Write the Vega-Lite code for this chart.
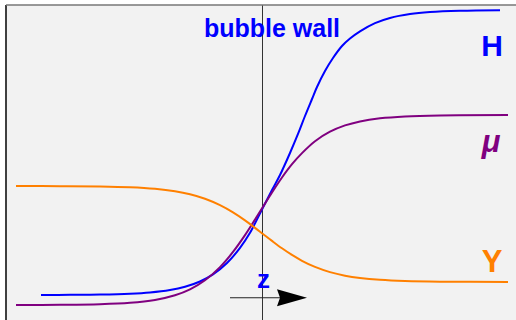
{
  "$schema": "https://vega.github.io/schema/vega-lite/v6.json",
  "width": 516,
  "height": 320,
  "autosize": {"type": "fit", "contains": "padding"},
  "padding": 0,
  "background": "white",
  "config": {"view": {"stroke": null}},
  "datasets": {
    "curves": [
      {"series": "H", "z": -8.84, "v": 3.39},
      {"series": "H", "z": -7.68, "v": 3.44},
      {"series": "H", "z": -6.48, "v": 3.54},
      {"series": "H", "z": -5.28, "v": 3.82},
      {"series": "H", "z": -4.48, "v": 4.24},
      {"series": "H", "z": -3.68, "v": 5.07},
      {"series": "H", "z": -3.08, "v": 6.18},
      {"series": "H", "z": -2.48, "v": 7.97},
      {"series": "H", "z": -1.96, "v": 10.37},
      {"series": "H", "z": -1.4, "v": 14.24},
      {"series": "H", "z": -0.88, "v": 19.36},
      {"series": "H", "z": -0.48, "v": 24.47},
      {"series": "H", "z": 0.04, "v": 33.05},
      {"series": "H", "z": 0.4, "v": 38.98},
      {"series": "H", "z": 0.72, "v": 44.07},
      {"series": "H", "z": 1.12, "v": 51.53},
      {"series": "H", "z": 1.44, "v": 57.97},
      {"series": "H", "z": 1.72, "v": 64.07},
      {"series": "H", "z": 2.0, "v": 69.83},
      {"series": "H", "z": 2.2, "v": 73.90},
      {"series": "H", "z": 2.52, "v": 79.32},
      {"series": "H", "z": 2.84, "v": 83.73},
      {"series": "H", "z": 3.2, "v": 87.80},
      {"series": "H", "z": 3.52, "v": 90.34},
      {"series": "H", "z": 3.92, "v": 92.78},
      {"series": "H", "z": 4.52, "v": 95.56},
      {"series": "H", "z": 5.12, "v": 97.31},
      {"series": "H", "z": 5.92, "v": 98.63},
      {"series": "H", "z": 6.72, "v": 99.31},
      {"series": "H", "z": 7.92, "v": 99.75},
      {"series": "H", "z": 9.52, "v": 99.94},
      {"series": "mu", "z": -9.84, "v": 0.02},
      {"series": "mu", "z": -8.08, "v": 0.07},
      {"series": "mu", "z": -6.48, "v": 0.27},
      {"series": "mu", "z": -5.28, "v": 0.75},
      {"series": "mu", "z": -4.28, "v": 1.73},
      {"series": "mu", "z": -3.48, "v": 3.31},
      {"series": "mu", "z": -2.88, "v": 5.32},
      {"series": "mu", "z": -2.28, "v": 8.39},
      {"series": "mu", "z": -1.68, "v": 12.85},
      {"series": "mu", "z": -1.16, "v": 17.98},
      {"series": "mu", "z": -0.68, "v": 23.68},
      {"series": "mu", "z": -0.28, "v": 28.95},
      {"series": "mu", "z": 0.04, "v": 33.29},
      {"series": "mu", "z": 0.4, "v": 38.14},
      {"series": "mu", "z": 0.8, "v": 43.22},
      {"series": "mu", "z": 1.2, "v": 47.73},
      {"series": "mu", "z": 1.6, "v": 51.49},
      {"series": "mu", "z": 2.12, "v": 55.53},
      {"series": "mu", "z": 2.72, "v": 58.75},
      {"series": "mu", "z": 3.32, "v": 60.88},
      {"series": "mu", "z": 3.92, "v": 62.24},
      {"series": "mu", "z": 4.72, "v": 63.29},
      {"series": "mu", "z": 5.72, "v": 63.93},
      {"series": "mu", "z": 7.12, "v": 64.27},
      {"series": "mu", "z": 9.84, "v": 64.39},
      {"series": "Y", "z": -9.84, "v": 40.33},
      {"series": "Y", "z": -8.08, "v": 40.29},
      {"series": "Y", "z": -6.48, "v": 40.17},
      {"series": "Y", "z": -5.28, "v": 39.90},
      {"series": "Y", "z": -4.28, "v": 39.37},
      {"series": "Y", "z": -3.48, "v": 38.54},
      {"series": "Y", "z": -2.88, "v": 37.52},
      {"series": "Y", "z": -2.28, "v": 36.0},
      {"series": "Y", "z": -1.68, "v": 33.83},
      {"series": "Y", "z": -1.16, "v": 31.38},
      {"series": "Y", "z": -0.68, "v": 28.67},
      {"series": "Y", "z": -0.28, "v": 26.15},
      {"series": "Y", "z": 0.04, "v": 24.07},
      {"series": "Y", "z": 0.4, "v": 21.73},
      {"series": "Y", "z": 0.8, "v": 19.23},
      {"series": "Y", "z": 1.2, "v": 16.97},
      {"series": "Y", "z": 1.6, "v": 15.0},
      {"series": "Y", "z": 2.12, "v": 12.92},
      {"series": "Y", "z": 2.72, "v": 11.16},
      {"series": "Y", "z": 3.32, "v": 9.95},
      {"series": "Y", "z": 3.92, "v": 9.16},
      {"series": "Y", "z": 4.72, "v": 8.53},
      {"series": "Y", "z": 5.72, "v": 8.13},
      {"series": "Y", "z": 7.12, "v": 7.91},
      {"series": "Y", "z": 9.84, "v": 7.81}
    ],
    "labels": [
      {"label": "bubble wall", "z": 0.4, "v": 90.85},
      {"label": "H", "z": 9.2, "v": 84.41},
      {"label": "μ", "z": 9.16, "v": 51.86},
      {"label": "Y", "z": 9.2, "v": 11.19},
      {"label": "z", "z": 0.06, "v": 5.76}
    ],
    "frame": [
      {"part": "panel", "z1": -10.24, "z2": 10.16, "v1": -5.08, "v2": 101.69},
      {"part": "wall", "z1": 0.02, "z2": 0.02, "v1": -5.08, "v2": 101.69},
      {"part": "left", "z1": -10.24, "z2": -10.24, "v1": -5.08, "v2": 101.69},
      {"part": "top", "z1": -10.24, "z2": 10.16, "v1": 101.69, "v2": 101.69},
      {"part": "arrow", "z1": -1.28, "z2": 0.72, "v1": 2.47, "v2": 2.47},
      {"part": "head", "z1": 1.2, "z2": 1.2, "v1": 2.47, "v2": 2.47}
    ]
  },
  "layer": [
    {
      "data": {"name": "frame"},
      "transform": [{"filter": "datum.part == 'panel'"}],
      "mark": {"type": "rect", "color": "#f2f2f2", "clip": true},
      "encoding": {
        "x": {"field": "z1", "type": "quantitative", "scale": {"domain": [-10.48, 10.16], "nice": false, "zero": false}, "axis": null},
        "x2": {"field": "z2"},
        "y": {"field": "v1", "type": "quantitative", "scale": {"domain": [-5.08, 103.39], "nice": false, "zero": false}, "axis": null},
        "y2": {"field": "v2"}
      }
    },
    {
      "data": {"name": "frame"},
      "transform": [{"filter": "datum.part == 'wall'"}],
      "mark": {"type": "rule", "color": "#333333", "strokeWidth": 1, "clip": true},
      "encoding": {
        "x": {"field": "z1", "type": "quantitative"},
        "y": {"field": "v1", "type": "quantitative"},
        "y2": {"field": "v2"}
      }
    },
    {
      "data": {"name": "frame"},
      "transform": [{"filter": "datum.part == 'left'"}],
      "mark": {"type": "rule", "color": "#111111", "strokeWidth": 1.6, "clip": true},
      "encoding": {
        "x": {"field": "z1", "type": "quantitative"},
        "y": {"field": "v1", "type": "quantitative"},
        "y2": {"field": "v2"}
      }
    },
    {
      "data": {"name": "frame"},
      "transform": [{"filter": "datum.part == 'top'"}],
      "mark": {"type": "rule", "color": "#777777", "strokeWidth": 1.6, "clip": true},
      "encoding": {
        "x": {"field": "z1", "type": "quantitative"},
        "x2": {"field": "z2"},
        "y": {"field": "v1", "type": "quantitative"}
      }
    },
    {
      "data": {"name": "frame"},
      "transform": [{"filter": "datum.part == 'arrow'"}],
      "mark": {"type": "rule", "color": "#222222", "strokeWidth": 1.2},
      "encoding": {
        "x": {"field": "z1", "type": "quantitative"},
        "x2": {"field": "z2"},
        "y": {"field": "v1", "type": "quantitative"}
      }
    },
    {
      "data": {"name": "frame"},
      "transform": [{"filter": "datum.part == 'head'"}],
      "mark": {"type": "point", "shape": "M -1 -0.57 L 1 0 L -1 0.57 L -0.8 0 Z", "size": 900, "filled": true, "color": "black", "opacity": 1},
      "encoding": {
        "x": {"field": "z1", "type": "quantitative"},
        "y": {"field": "v1", "type": "quantitative"}
      }
    },
    {
      "data": {"name": "curves"},
      "mark": {"type": "line", "strokeWidth": 2, "interpolate": "catmull-rom"},
      "encoding": {
        "x": {"field": "z", "type": "quantitative"},
        "y": {"field": "v", "type": "quantitative"},
        "color": {"field": "series", "type": "nominal", "scale": {"domain": ["H", "mu", "Y"], "range": ["#0000ff", "#800080", "#ff8000"]}, "legend": null}
      }
    },
    {
      "data": {"name": "labels"},
      "transform": [{"filter": "datum.label == 'bubble wall'"}],
      "mark": {"type": "text", "font": "Liberation Sans", "fontWeight": "bold", "fontSize": 25, "color": "#0000ff", "align": "center", "baseline": "alphabetic"},
      "encoding": {
        "x": {"field": "z", "type": "quantitative"},
        "y": {"field": "v", "type": "quantitative"},
        "text": {"field": "label"}
      }
    },
    {
      "data": {"name": "labels"},
      "transform": [{"filter": "datum.label == 'H'"}],
      "mark": {"type": "text", "font": "Liberation Sans", "fontWeight": "bold", "fontSize": 30, "color": "#0000ff", "align": "center", "baseline": "alphabetic"},
      "encoding": {
        "x": {"field": "z", "type": "quantitative"},
        "y": {"field": "v", "type": "quantitative"},
        "text": {"field": "label"}
      }
    },
    {
      "data": {"name": "labels"},
      "transform": [{"filter": "datum.label == 'μ'"}],
      "mark": {"type": "text", "font": "Liberation Sans", "fontWeight": "bold", "fontStyle": "italic", "fontSize": 31, "color": "#800080", "align": "center", "baseline": "alphabetic"},
      "encoding": {
        "x": {"field": "z", "type": "quantitative"},
        "y": {"field": "v", "type": "quantitative"},
        "text": {"field": "label"}
      }
    },
    {
      "data": {"name": "labels"},
      "transform": [{"filter": "datum.label == 'Y'"}],
      "mark": {"type": "text", "font": "Liberation Sans", "fontWeight": "bold", "fontSize": 31, "color": "#ff8000", "align": "center", "baseline": "alphabetic"},
      "encoding": {
        "x": {"field": "z", "type": "quantitative"},
        "y": {"field": "v", "type": "quantitative"},
        "text": {"field": "label"}
      }
    },
    {
      "data": {"name": "labels"},
      "transform": [{"filter": "datum.label == 'z'"}],
      "mark": {"type": "text", "font": "Liberation Sans", "fontWeight": "bold", "fontSize": 26, "color": "#0000ff", "align": "center", "baseline": "alphabetic"},
      "encoding": {
        "x": {"field": "z", "type": "quantitative"},
        "y": {"field": "v", "type": "quantitative"},
        "text": {"field": "label"}
      }
    }
  ]
}
